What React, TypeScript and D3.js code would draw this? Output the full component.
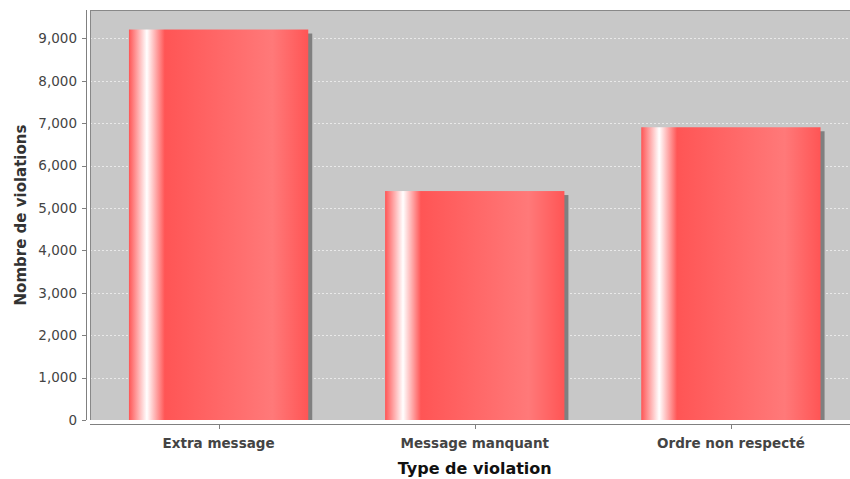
import React from "react";
import * as d3 from "d3";

const categories = ["Extra message", "Message manquant", "Ordre non respecté"];
const values = [9210, 5400, 6905];
const yTicks = [0, 1000, 2000, 3000, 4000, 5000, 6000, 7000, 8000, 9000];
const yLabel = "Nombre de violations";
const xLabel = "Type de violation";

const W = 850;
const H = 479;
const plotLeft = 90;
const plotTop = 10;
const plotBottom = 420;
const plotRight = 859.5;

export default function App() {
  const x = d3
    .scaleBand<string>()
    .domain(categories)
    .range([plotLeft, plotRight])
    .paddingInner(0.3)
    .paddingOuter(0.152);
  const yMax = (d3.max(values) as number) * 1.05;
  const y = d3.scaleLinear().domain([0, yMax]).range([plotBottom, plotTop]);
  const fmt = d3.format(",");
  const font = "'DejaVu Sans', Verdana, sans-serif";

  return (
    <svg
      width={W}
      height={H}
      style={{ position: "absolute", left: 0, top: 0, background: "#fff" }}
      fontFamily={font}
    >
      <defs>
        <linearGradient id="barGrad" x1="0" x2="1" y1="0" y2="0">
          <stop offset="0" stopColor="#ff5555" />
          <stop offset="0.10" stopColor="#ffffff" />
          <stop offset="0.20" stopColor="#ff5555" />
          <stop offset="0.80" stopColor="#ff7979" />
          <stop offset="1" stopColor="#ff5555" />
        </linearGradient>
        <clipPath id="plotClip">
          <rect x={plotLeft} y={plotTop} width={W - plotLeft} height={plotBottom - plotTop} />
        </clipPath>
      </defs>
      <rect x={0} y={0} width={W} height={H} fill="#ffffff" />
      <rect
        x={plotLeft}
        y={plotTop}
        width={W - plotLeft}
        height={plotBottom - plotTop}
        fill="#c8c8c8"
      />
      <g clipPath="url(#plotClip)">
        {yTicks.map((t) => (
          <line
            key={t}
            x1={plotLeft}
            x2={W}
            y1={Math.round(y(t)) + 0.5}
            y2={Math.round(y(t)) + 0.5}
            stroke="#ffffff"
            strokeWidth={0.6}
            strokeDasharray="2,2"
          />
        ))}
        {categories.map((c, i) => (
          <rect
            key={"s" + c}
            x={(x(c) as number) + 4}
            y={y(values[i]) + 4}
            width={x.bandwidth()}
            height={plotBottom - y(values[i]) - 4}
            fill="#808080"
          />
        ))}
        {categories.map((c, i) => (
          <rect
            key={"b" + c}
            x={x(c) as number}
            y={y(values[i])}
            width={x.bandwidth()}
            height={plotBottom - y(values[i])}
            fill="url(#barGrad)"
          />
        ))}
      </g>
      <line x1={plotLeft + 0.5} x2={plotLeft + 0.5} y1={plotTop} y2={plotBottom} stroke="#888" strokeWidth={1} />
      <line x1={plotLeft} x2={W} y1={plotTop + 0.5} y2={plotTop + 0.5} stroke="#888" strokeWidth={1} />
      <line x1={86.5} x2={86.5} y1={plotTop} y2={plotBottom} stroke="#808080" />
      {yTicks.map((t) => (
        <g key={"yt" + t}>
          <line
            x1={82}
            x2={86}
            y1={Math.round(y(t)) + 0.5}
            y2={Math.round(y(t)) + 0.5}
            stroke="#808080"
          />
          <text
            x={77}
            y={y(t)}
            dy="0.36em"
            textAnchor="end"
            fontSize={13.5}
            fill="#444444"
          >
            {fmt(t)}
          </text>
        </g>
      ))}
      <text
        transform={`translate(26,${(plotTop + plotBottom) / 2}) rotate(-90)`}
        textAnchor="middle"
        fontSize={15}
        fontWeight="bold"
        fill="#333333"
      >
        {yLabel}
      </text>
      <line x1={plotLeft} x2={W} y1={424.5} y2={424.5} stroke="#808080" />
      {categories.map((c) => {
        const cx = (x(c) as number) + x.bandwidth() / 2;
        return (
          <g key={"xt" + c}>
            <line x1={Math.round(cx) + 0.5} x2={Math.round(cx) + 0.5} y1={425} y2={429} stroke="#808080" />
            <text x={cx} y={448} textAnchor="middle" fontSize={13.5} fontWeight="bold" fill="#444444">
              {c}
            </text>
          </g>
        );
      })}
      <text x={(x(categories[1]) as number) + x.bandwidth() / 2} y={474} textAnchor="middle" fontSize={16} fontWeight="bold" fill="#111111">
        {xLabel}
      </text>
    </svg>
  );
}
